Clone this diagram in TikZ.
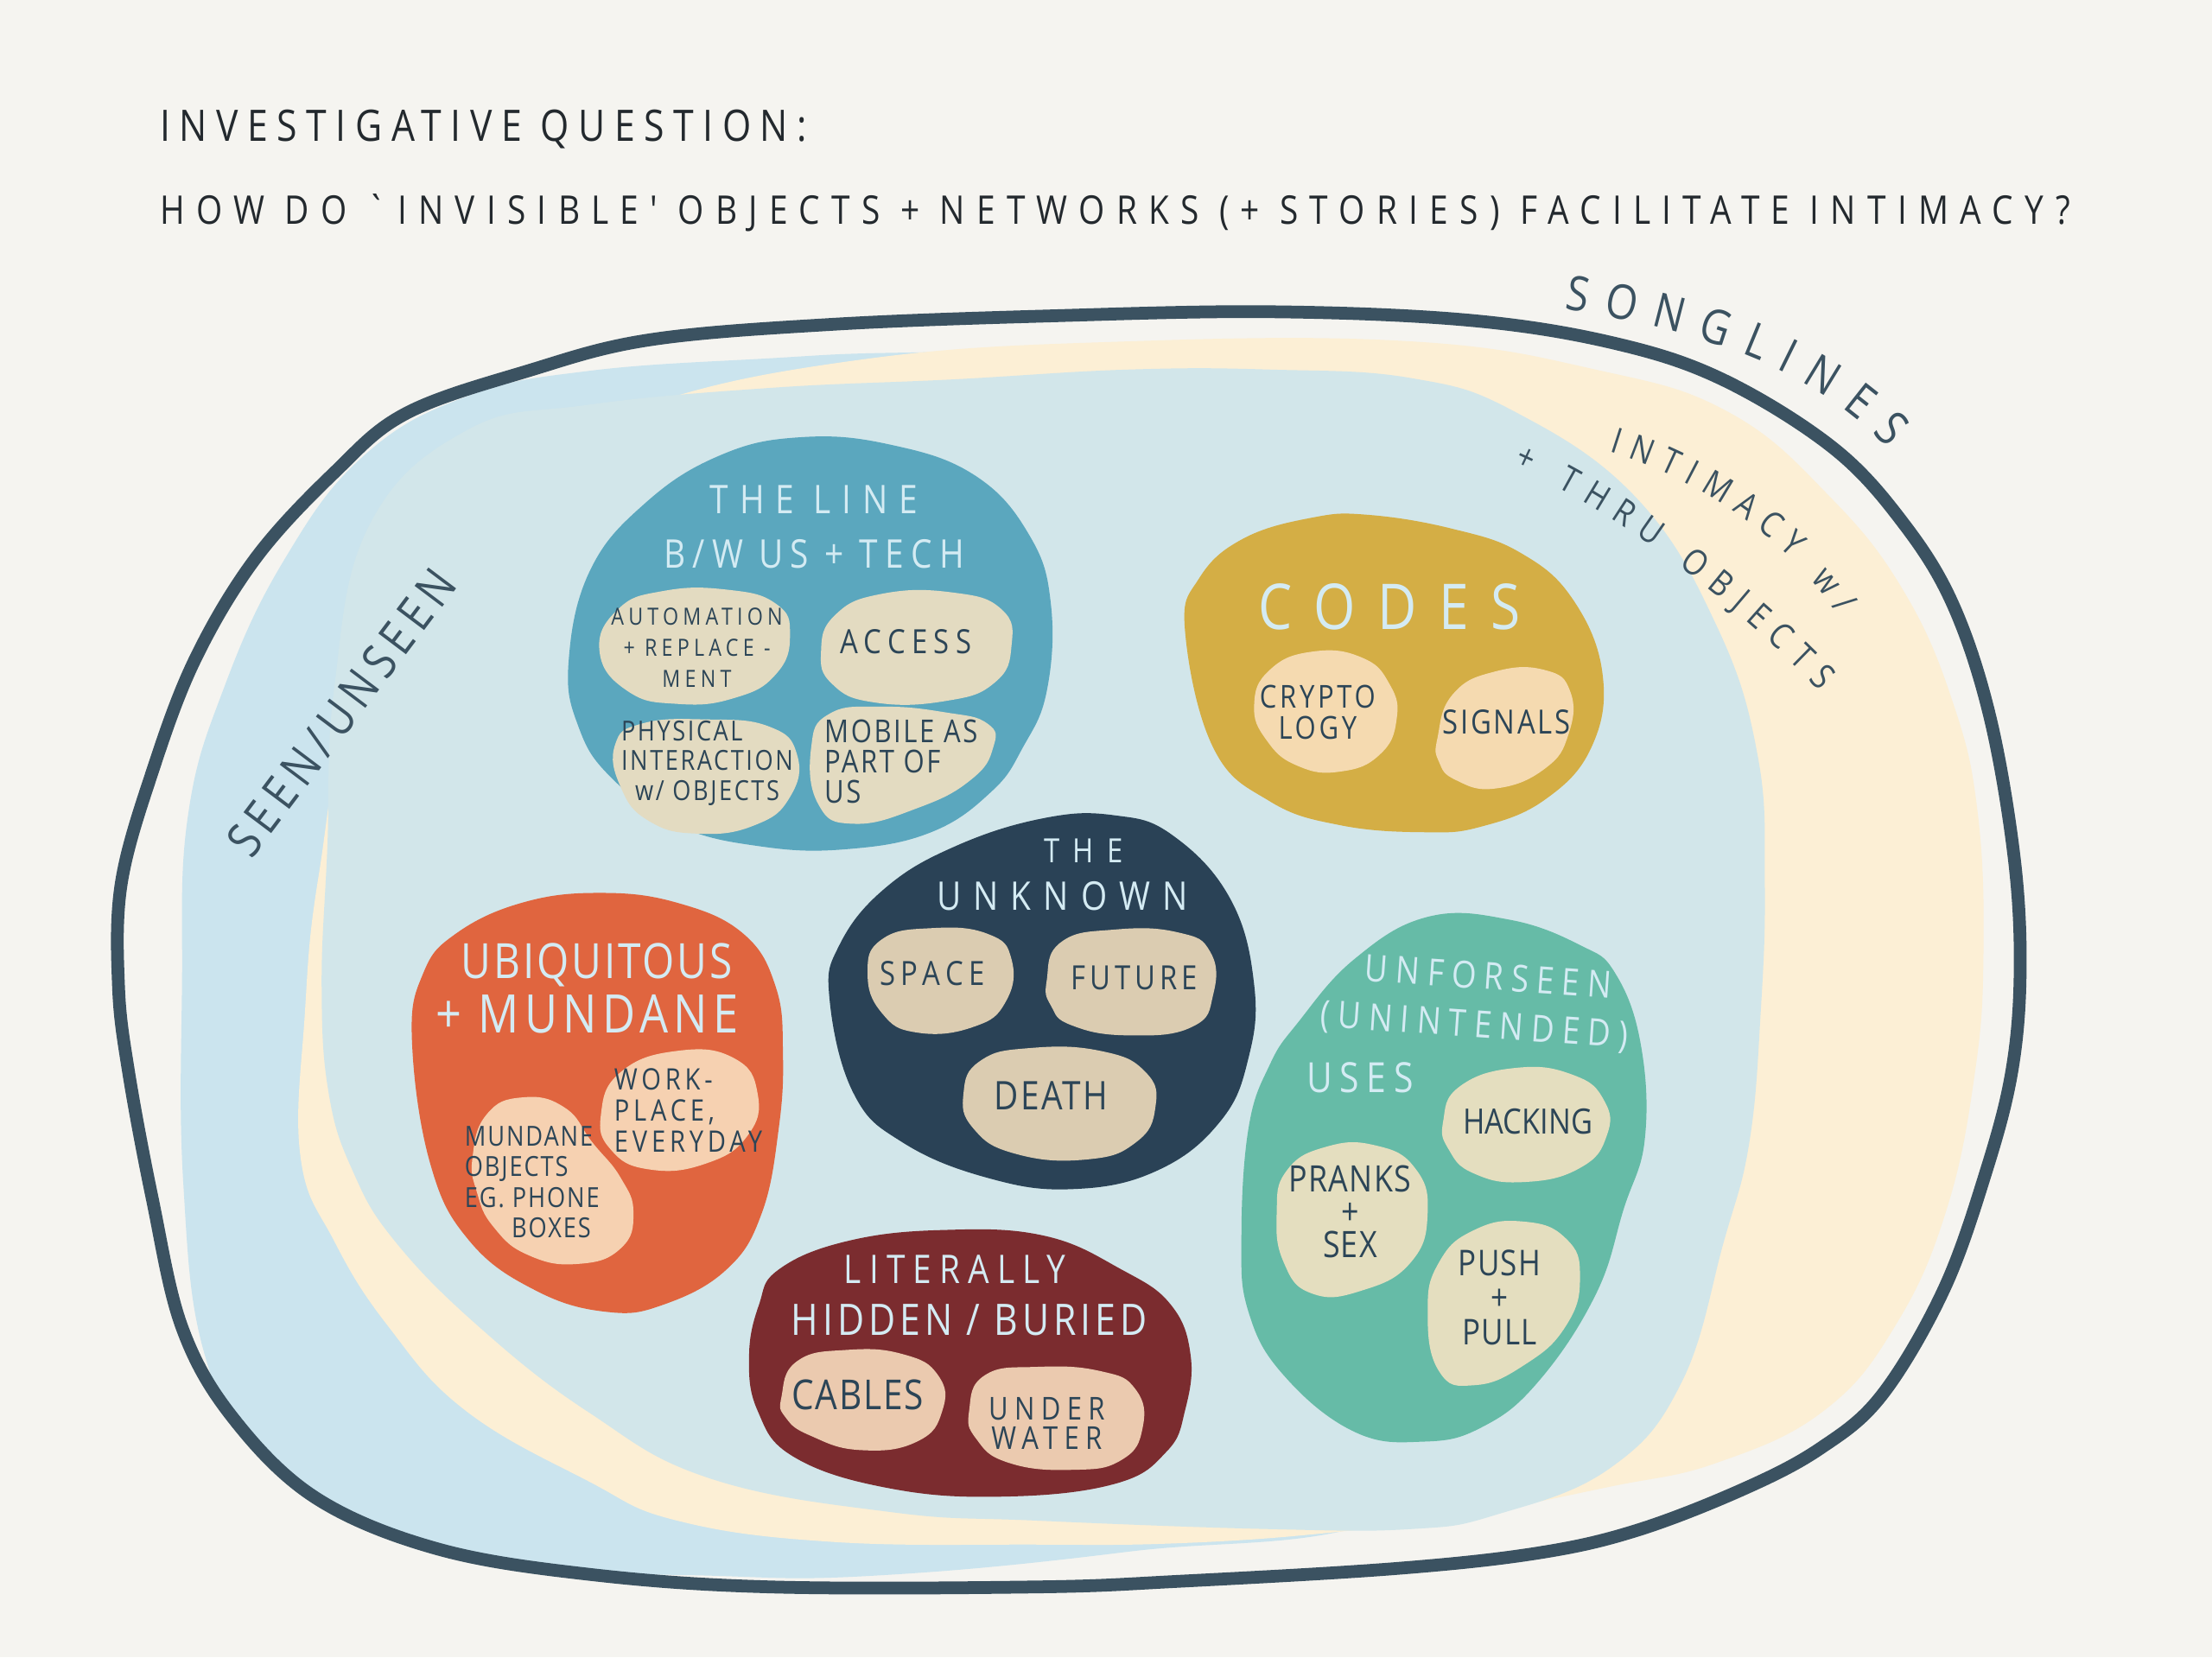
\documentclass[tikz,border=0pt]{standalone}
\usepackage{fontspec}
\usetikzlibrary{decorations.text}
\setmainfont{Open Sans}
\newfontfamily\hand{Open Sans}[FakeStretch=0.85]
\newcommand{\hf}[3]{\hand\fontsize{#1}{#2}\selectfont\addfontfeature{LetterSpace=#3}}
\definecolor{paper}{HTML}{F5F4F0}
\definecolor{framecol}{HTML}{3B5261}
\definecolor{titleink}{HTML}{23292E}
\definecolor{inktext}{HTML}{2C4557}
\definecolor{paletext}{HTML}{D4EBF3}
\definecolor{seenblue}{HTML}{CBE4EE}
\definecolor{intimyellow}{HTML}{FCEFD5}
\definecolor{midblue}{HTML}{D2E6EA}
\definecolor{lineblue}{HTML}{5BA7BE}
\definecolor{linesub}{HTML}{E3DBC1}
\definecolor{codesgold}{HTML}{D4AE45}
\definecolor{codessub}{HTML}{F5DAB0}
\definecolor{unknavy}{HTML}{2A4256}
\definecolor{unksub}{HTML}{DBCCB1}
\definecolor{ubiqred}{HTML}{E0653F}
\definecolor{ubiqsub}{HTML}{F6D1B1}
\definecolor{litred}{HTML}{7B2C2F}
\definecolor{litsub}{HTML}{EBCAAF}
\definecolor{unfteal}{HTML}{66BBA7}
\definecolor{unfsub}{HTML}{E4DEBF}
\begin{document}
\begin{tikzpicture}[x=0.016327cm, y=-0.016327cm,
  blob/.style={fill=#1},
  frame/.style={draw=framecol, line width=4.2pt, line join=round},
  pale/.style={text=paletext, inner sep=0pt},
  ink/.style={text=inktext, inner sep=0pt},
  curved/.style={decorate, decoration={text along path, text align={fit to path}, text color=framecol, text={#1}}}]
\useasboundingbox (0,0) rectangle (1568,1175);
\fill[paper] (0,0) rectangle (1568,1175);

\node[anchor=base west, text=titleink, inner sep=0pt, font=\hf{14.3}{17}{21}] (title) at (113,100) {INVESTIGATIVE QUESTION:};
\node[anchor=base west, text=titleink, inner sep=0pt, font=\hf{13}{16}{29}] (question) at (113,159) {HOW DO `INVISIBLE' OBJECTS + NETWORKS (+ STORIES) FACILITATE INTIMACY?};

\fill[blob=seenblue] plot[smooth cycle, tension=0.7] coordinates {(129,700) (133,580) (159,487) (202,396) (258,323) (331,281) (417,263) (546,254) (640,250) (800,250) (1000,262) (1150,330) (1200,600) (1150,950) (1000,1070) (800,1100) (620,1117) (503,1117) (374,1110) (267,1080) (185,1031) (145,960) (130,840)};
\fill[blob=intimyellow] plot[smooth cycle, tension=0.7] coordinates {(213,820) (216,720) (226,620) (255,480) (330,350) (450,290) (610,255) (800,242) (1000,242) (1131,262) (1225,292) (1297,352) (1350,420) (1385,500) (1402,577) (1406,675) (1400,760) (1380,857) (1344,939) (1293,1000) (1217,1037) (1141,1054) (1039,1074) (938,1087) (836,1094) (735,1095) (589,1093) (480,1078) (417,1050) (330,1000) (275,940) (237,880)};
\fill[blob=midblue] plot[smooth cycle, tension=0.7] coordinates {(232,602) (228,699) (233,775) (250,830) (280,880) (340,941) (417,1001) (503,1048) (632,1072) (735,1078) (900,1084) (1000,1084) (1060,1074) (1141,1041) (1192,980) (1222,880) (1240,810) (1248,719) (1251,627) (1246,536) (1217,444) (1160,353) (1074,292) (1000,268) (900,262) (800,262) (675,269) (546,275) (417,287) (331,305) (262,372) (237,487)};
\draw[frame] plot[smooth cycle, tension=0.6] coordinates {(743,224) (900,221) (1041,227) (1143,243) (1221,269) (1300,318) (1350,372) (1385,430) (1411,510) (1428,610) (1432,690) (1426,760) (1408,830) (1378,914) (1334,989) (1290,1027) (1235,1056) (1160,1085) (1090,1101) (989,1112) (836,1121) (735,1125) (546,1125) (417,1116) (310,1098) (224,1062) (165,1005) (129,941) (108,850) (91,759) (84,699) (86,626) (108,547) (138,468) (181,396) (237,335) (288,293) (374,263) (460,241) (589,230)};

\node[rotate=53, text=framecol, inner sep=0pt, font=\hf{16}{18}{14}] (seen) at (242,505) {SEEN/UNSEEN};
\path[curved={|\hf{15.8}{18}{0}|SONGLINES}] (1109,219) .. controls (1190,232) and (1280,255) .. (1338,318);
\path[curved={|\hf{11.7}{14}{0}|INTIMACY w/}] (1141,320) .. controls (1205,340) and (1265,380) .. (1303,436);
\path[curved={|\hf{11.7}{14}{0}|+ THRU OBJECTS}] (1073,330) .. controls (1145,362) and (1228,425) .. (1290,490);

\fill[blob=lineblue] plot[smooth cycle, tension=0.7] coordinates {(403,470) (418,405) (457,357) (510,323) (567,310) (630,315) (691,337) (730,380) (745,429) (742,490) (725,530) (703,561) (660,590) (600,602) (539,600) (480,585) (433,551) (410,515)};
\fill[blob=linesub] plot[smooth cycle, tension=0.8] coordinates {(425,462) (438,432) (470,419) (515,418) (550,428) (560,450) (550,478) (520,495) (480,499) (445,490)};
\fill[blob=linesub] plot[smooth cycle, tension=0.8] coordinates {(582,462) (592,436) (625,421) (675,420) (710,432) (717,458) (705,484) (670,497) (620,498) (590,485)};
\fill[blob=linesub] plot[smooth cycle, tension=0.8] coordinates {(436,528) (455,513) (500,510) (545,515) (565,535) (560,565) (535,585) (495,591) (460,582) (440,558)};
\fill[blob=linesub] plot[smooth cycle, tension=0.8] coordinates {(575,530) (588,506) (625,501) (670,505) (700,513) (704,530) (688,553) (650,573) (605,584) (580,570)};
\node[pale, font=\hf{13}{15}{28}] (lineA) at (577,354) {THE LINE};
\node[pale, font=\hf{13}{15}{18}] (lineB) at (577,393) {B/W US + TECH};
\node[ink, align=center, font=\hf{7.8}{10.2}{19}] (auto) at (494,459) {AUTOMATION\\+ REPLACE -\\MENT};
\node[ink, font=\hf{11}{13}{19}] (access) at (642,455) {ACCESS};
\node[ink, anchor=west, align=left, font=\hf{9.1}{9.8}{8}] (phys) at (440,541) {PHYSICAL\\INTERACTION\\\hspace*{0.5em}w/ OBJECTS};
\node[ink, anchor=west, align=left, font=\hf{10.4}{10}{7}] (mobile) at (584,540) {MOBILE AS\\PART OF\\US};

\fill[blob=codesgold] plot[smooth cycle, tension=0.7] coordinates {(840,447) (850,410) (881,382) (930,367) (970,365) (1030,375) (1078,392) (1115,425) (1136,478) (1128,530) (1095,567) (1050,586) (1010,590) (950,585) (900,568) (860,530)};
\fill[blob=codessub] plot[smooth cycle, tension=0.8] coordinates {(889,500) (900,475) (930,462) (965,466) (985,485) (990,510) (978,535) (950,547) (920,543) (898,525)};
\fill[blob=codessub] plot[smooth cycle, tension=0.8] coordinates {(1019,523) (1030,492) (1060,476) (1095,475) (1113,490) (1112,520) (1095,545) (1060,559) (1032,553) (1020,540)};
\node[pale, font=\hf{20.8}{24}{35}] (codes) at (985,430) {CODES};
\node[ink, align=center, font=\hf{10.4}{10.2}{10}] (crypto) at (934,505) {CRYPTO\\LOGY};
\node[ink, font=\hf{11}{13}{7}] (signals) at (1068,512) {SIGNALS};

\fill[blob=unknavy] plot[smooth cycle, tension=0.7] coordinates {(588,708) (595,670) (627,630) (677,600) (740,580) (790,578) (831,592) (872,637) (889,698) (885,750) (865,795) (820,830) (760,843) (700,835) (640,810) (605,775)};
\fill[blob=unksub] plot[smooth cycle, tension=0.8] coordinates {(615,690) (625,666) (660,658) (700,662) (717,680) (713,710) (690,728) (650,732) (625,718)};
\fill[blob=unksub] plot[smooth cycle, tension=0.8] coordinates {(742,695) (752,668) (790,659) (835,661) (858,675) (860,705) (845,728) (800,734) (760,727) (745,713)};
\fill[blob=unksub] plot[smooth cycle, tension=0.8] coordinates {(683,775) (695,752) (730,743) (780,745) (812,760) (819,785) (805,810) (770,822) (720,818) (690,800)};
\node[pale, font=\hf{11}{13}{40}] (the) at (768,603) {THE};
\node[pale, font=\hf{13}{15}{31}] (unknown) at (753,635) {UNKNOWN};
\node[ink, font=\hf{11}{13}{17}] (space) at (661,690) {SPACE};
\node[ink, font=\hf{11}{13}{13}] (future) at (804,693) {FUTURE};
\node[ink, font=\hf{13}{15}{5}] (death) at (745,777) {DEATH};

\fill[blob=ubiqred] plot[smooth cycle, tension=0.7] coordinates {(292,737) (300,690) (323,662) (370,640) (425,633) (480,640) (527,662) (550,700) (555,747) (552,800) (540,860) (515,900) (470,925) (430,930) (380,915) (333,880) (305,825)};
\fill[blob=ubiqsub] plot[smooth cycle, tension=0.8] coordinates {(426,790) (440,760) (480,745) (520,750) (537,775) (530,805) (500,825) (460,829) (433,815)};
\fill[blob=ubiqsub] plot[smooth cycle, tension=0.8] coordinates {(335,820) (345,790) (370,778) (400,785) (420,810) (440,835) (449,860) (440,885) (410,896) (375,890) (350,870) (338,845)};
\node[pale, font=\hf{16}{18}{5}] (ubiq) at (423,684) {UBIQUITOUS};
\node[pale, font=\hf{17.5}{20}{10}] (mundane) at (416,719) {+ MUNDANE};
\node[ink, anchor=west, align=left, font=\hf{9.75}{10.3}{14}] (work) at (435,787) {WORK-\\PLACE,\\EVERYDAY};
\node[ink, anchor=west, align=left, font=\hf{9.1}{10}{6}] (objects) at (329,838) {MUNDANE\\OBJECTS\\EG. PHONE\\\hspace*{1.7em}BOXES};

\fill[blob=litred] plot[smooth cycle, tension=0.7] coordinates {(531,961) (538,925) (552,900) (600,880) (668,872) (740,876) (795,900) (830,925) (844,961) (840,1000) (827,1029) (790,1052) (710,1061) (630,1055) (563,1033) (537,1000)};
\fill[blob=litsub] plot[smooth cycle, tension=0.8] coordinates {(554,990) (565,965) (600,957) (640,960) (665,975) (668,1000) (650,1022) (610,1028) (575,1018) (557,1005)};
\fill[blob=litsub] plot[smooth cycle, tension=0.8] coordinates {(687,1000) (698,975) (735,969) (780,972) (805,985) (810,1012) (795,1035) (760,1042) (715,1037) (692,1020)};
\node[pale, font=\hf{13}{15}{20}] (literally) at (677,900) {LITERALLY};
\node[pale, font=\hf{14.3}{16}{10}] (hidden) at (687,936) {HIDDEN / BURIED};
\node[ink, font=\hf{13.6}{15}{4}] (cables) at (608,989) {CABLES};
\node[ink, align=center, font=\hf{10.4}{9.75}{20}] (water) at (742,1009) {UNDER\\WATER};

\fill[blob=unfteal] plot[smooth cycle, tension=0.7] coordinates {(880,878) (885,800) (900,755) (920,725) (960,680) (1012,650) (1070,652) (1120,670) (1145,690) (1163,740) (1166,807) (1151,857) (1131,918) (1090,980) (1050,1012) (1009,1022) (960,1015) (910,975) (885,930)};
\fill[blob=unfsub] plot[smooth cycle, tension=0.8] coordinates {(1023,795) (1035,770) (1075,757) (1115,762) (1137,780) (1139,805) (1120,828) (1080,838) (1045,832) (1027,815)};
\fill[blob=unfsub] plot[smooth cycle, tension=0.8] coordinates {(905,860) (912,830) (940,813) (975,812) (1003,828) (1012,860) (1000,895) (965,915) (930,917) (910,895)};
\fill[blob=unfsub] plot[smooth cycle, tension=0.8] coordinates {(1012,930) (1020,895) (1045,872) (1080,866) (1110,878) (1120,905) (1110,940) (1080,968) (1045,982) (1020,972)};
\node[pale, rotate=-4, font=\hf{12.3}{14}{21}] (unforseen) at (1055,692) {UNFORSEEN};
\node[pale, rotate=-4, font=\hf{12.3}{14}{21}] (unintended) at (1045,728) {(UNINTENDED)};
\node[pale, font=\hf{13.7}{15}{18}] (uses) at (964,764) {USES};
\node[ink, font=\hf{11.5}{13}{0}] (hacking) at (1083,795) {HACKING};
\node[ink, align=center, font=\hf{12}{10.7}{3}] (pranks) at (957,859) {PRANKS\\+\\SEX};
\node[ink, align=center, font=\hf{11.7}{11.4}{3}] (push) at (1063,920) {PUSH\\+\\PULL};
\end{tikzpicture}
\end{document}
